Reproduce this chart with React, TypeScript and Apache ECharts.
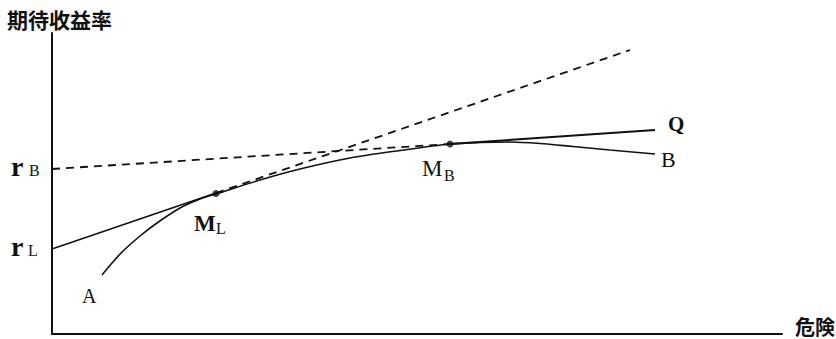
import React, { useEffect, useRef } from "react";
import * as echarts from "echarts";

// Coordinates in chart units (risk along x, expected return along y)
const curveRisk = [50, 60, 71, 88, 105, 128, 148, 164, 208, 248, 298, 348, 398, 428, 458, 488, 521, 558, 603];
const curveReturn = [59, 71, 83, 98, 111, 126, 135, 140, 154, 165, 176, 183.5, 190, 191.5, 192, 190.5, 187.5, 184, 180];

const lineLSolid = [[0, 85], [164, 141]];
const lineLDashed = [[164, 141], [578, 284]];
const lineBDashed = [[0, 165], [398, 190]];
const lineQSolid = [[398, 190], [603, 204]];
const tangentPoints = [[164, 140.5], [398, 190]];

const xMax = 730;
const yMax = 301;

const serif = "'Liberation Serif', 'DejaVu Serif', serif";
const cjk = "'Noto Sans CJK JP', 'Noto Sans CJK SC', sans-serif";

const txt = (left: number, top: number, text: string, font: string) => ({
  type: "text",
  left,
  top,
  style: { text, font, fill: "#111" },
});

export default function App() {
  const ref = useRef<HTMLDivElement>(null);
  useEffect(() => {
    document.body.style.margin = "0";
    if (!ref.current) return;
    const chart = echarts.init(ref.current, undefined, { renderer: "svg" });
    const lineStyle = (type: any, width = 1.6) => ({ color: "#111", width, type });
    const curveData = curveRisk.map((x, i) => [x, curveReturn[i]]);
    chart.setOption({
      animation: false,
      backgroundColor: "#fff",
      grid: { left: 52, right: 54, top: 33, bottom: 5 },
      xAxis: {
        type: "value",
        min: 0,
        max: xMax,
        axisLine: { show: true, lineStyle: { color: "#111", width: 2 } },
        axisTick: { show: false },
        axisLabel: { show: false },
        splitLine: { show: false },
      },
      yAxis: {
        type: "value",
        min: 0,
        max: yMax,
        axisLine: { show: true, lineStyle: { color: "#111", width: 2 } },
        axisTick: { show: false },
        axisLabel: { show: false },
        splitLine: { show: false },
      },
      series: [
        {
          type: "line",
          data: curveData,
          smooth: 0.3,
          symbol: "none",
          lineStyle: lineStyle("solid", 1.6),
        },
        { type: "line", data: lineLSolid, symbol: "none", lineStyle: lineStyle("solid", 1.6) },
        { type: "line", data: lineLDashed, symbol: "none", lineStyle: lineStyle([8, 6], 1.8) },
        { type: "line", data: lineBDashed, symbol: "none", lineStyle: lineStyle([8, 6], 1.8) },
        { type: "line", data: lineQSolid, symbol: "none", lineStyle: lineStyle("solid", 2) },
        {
          type: "scatter",
          data: tangentPoints,
          symbol: "circle",
          symbolSize: 7,
          itemStyle: { color: "#111" },
        },
      ],
      graphic: [
        txt(7, 8, "期待收益率", `bold 21px ${cjk}`),
        txt(795, 316, "危険", `bold 20px ${cjk}`),
        txt(11, 152, "r", `bold 28px ${serif}`),
        txt(29, 162, "B", `16px ${serif}`),
        txt(11, 232, "r", `bold 28px ${serif}`),
        txt(28, 242, "L", `16px ${serif}`),
        txt(82, 286, "A", `20px ${serif}`),
        txt(194, 212, "M", `bold 23px ${serif}`),
        txt(216, 220, "L", `16px ${serif}`),
        txt(422, 157, "M", `23px ${serif}`),
        txt(444, 167, "B", `16px ${serif}`),
        txt(668, 113, "Q", `bold 21px ${serif}`),
        txt(661, 148, "B", `22px ${serif}`),
      ],
    });
    return () => chart.dispose();
  }, []);
  return (
    <div
      ref={ref}
      style={{ position: "absolute", left: 0, top: 0, width: 836, height: 339 }}
    />
  );
}
